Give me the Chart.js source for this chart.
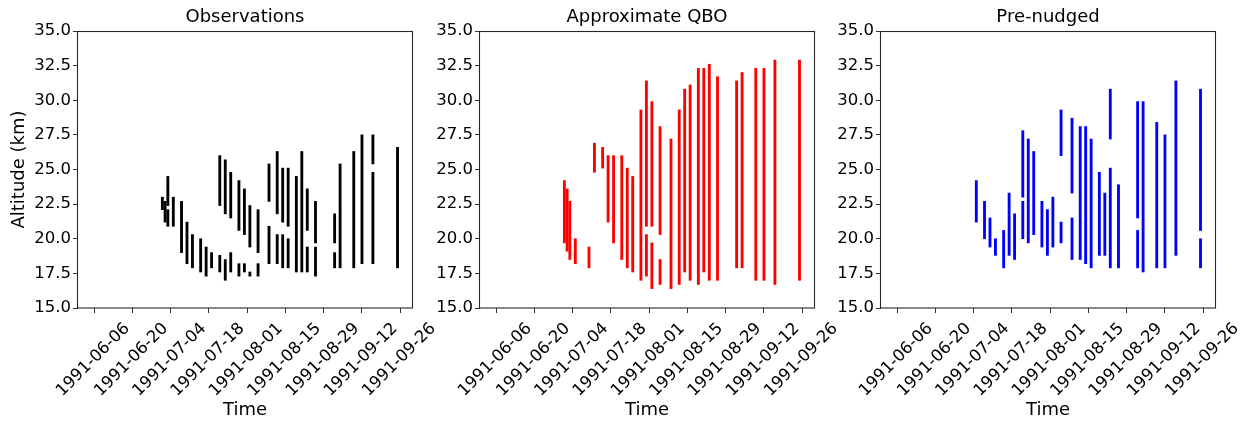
<!DOCTYPE html>
<html>
<head>
<meta charset="utf-8">
<script src="https://cdn.jsdelivr.net/npm/chart.js@4.4.1/dist/chart.umd.min.js"></script>
<style>
  html, body { margin: 0; padding: 0; background: #fff; }
  #wrap { position: relative; width: 1257px; height: 421px; overflow: hidden; background: #fff; }
  #wrap canvas { position: absolute; top: 0; }
</style>
</head>
<body>
<div id="wrap">
  <canvas id="c1" width="450" height="421" style="left:0px"></canvas>
  <canvas id="c2" width="450" height="421" style="left:400px"></canvas>
  <canvas id="c3" width="457" height="421" style="left:800px"></canvas>
</div>
<script>
// Tick labels on the shared time axis and the altitude axis
const tickDates = ['1991-06-06', '1991-06-20', '1991-07-04', '1991-07-18', '1991-08-01',
                   '1991-08-15', '1991-08-29', '1991-09-12', '1991-09-26'];
const altTicks = [15, 17.5, 20, 22.5, 25, 27.5, 30, 32.5, 35];

// Observations: one vertical segment per (date, bottom, top); repeated dates have gaps
const obsDates = ['1991-07-01', '1991-07-02', '1991-07-03', '1991-07-03', '1991-07-05', '1991-07-08',
  '1991-07-10', '1991-07-12', '1991-07-15', '1991-07-17', '1991-07-19', '1991-07-22', '1991-07-22',
  '1991-07-24', '1991-07-24', '1991-07-26', '1991-07-26', '1991-07-29', '1991-07-29', '1991-07-31',
  '1991-07-31', '1991-08-02', '1991-08-02', '1991-08-05', '1991-08-05', '1991-08-09', '1991-08-09',
  '1991-08-12', '1991-08-12', '1991-08-14', '1991-08-14', '1991-08-16', '1991-08-16', '1991-08-19',
  '1991-08-21', '1991-08-23', '1991-08-23', '1991-08-26', '1991-08-26', '1991-09-02', '1991-09-02',
  '1991-09-04', '1991-09-09', '1991-09-12', '1991-09-16', '1991-09-16', '1991-09-25'];
const obsBottom = [22.1, 21.2, 22.4, 20.9, 20.9, 19.0, 18.2, 17.9, 17.6, 17.3, 17.9, 22.4, 17.6,
  21.8, 17.0, 21.5, 17.6, 20.6, 17.3, 20.3, 17.6, 19.4, 17.3, 19.0, 17.3, 22.7, 18.2, 21.8, 18.2,
  21.2, 17.9, 20.9, 17.9, 17.6, 17.6, 20.6, 17.6, 19.7, 17.3, 19.7, 17.9, 17.9, 17.9, 18.2, 25.4,
  18.2, 17.9];
const obsTop = [23.0, 22.7, 24.5, 22.1, 23.0, 22.7, 21.2, 20.3, 20.0, 19.4, 19.0, 26.0, 18.8,
  25.7, 18.5, 24.8, 19.0, 24.2, 18.2, 23.6, 18.2, 22.4, 17.6, 22.1, 18.2, 25.4, 20.9, 26.3, 20.3,
  25.1, 20.3, 25.1, 20.0, 24.5, 26.3, 23.6, 19.4, 22.7, 19.4, 21.8, 19.0, 25.4, 26.3, 27.5, 27.5,
  24.8, 26.6];

// Approximate QBO
const qboDates = ['1991-07-01', '1991-07-02', '1991-07-03', '1991-07-05', '1991-07-10', '1991-07-12',
  '1991-07-15', '1991-07-17', '1991-07-19', '1991-07-22', '1991-07-24', '1991-07-26', '1991-07-29',
  '1991-07-31', '1991-07-31', '1991-08-02', '1991-08-02', '1991-08-05', '1991-08-05', '1991-08-09',
  '1991-08-12', '1991-08-14', '1991-08-16', '1991-08-19', '1991-08-21', '1991-08-23', '1991-08-26',
  '1991-09-02', '1991-09-04', '1991-09-09', '1991-09-12', '1991-09-16', '1991-09-25'];
const qboBottom = [19.7, 19.1, 18.5, 18.2, 17.9, 24.8, 25.1, 21.2, 19.7, 18.5, 17.9, 17.6, 17.0,
  20.9, 17.3, 20.9, 16.4, 20.3, 16.7, 16.4, 16.7, 17.6, 17.0, 16.7, 17.6, 17.0, 17.0, 17.9, 17.9,
  17.0, 17.0, 16.7, 17.0];
const qboTop = [24.2, 23.6, 22.7, 20.0, 19.4, 26.9, 26.6, 26.0, 26.0, 26.0, 25.1, 24.5, 29.3,
  31.4, 20.3, 29.9, 19.7, 28.1, 18.5, 27.2, 29.3, 30.8, 31.1, 32.3, 32.3, 32.6, 31.7, 31.4, 32.0,
  32.3, 32.3, 32.9, 32.9];

// Pre-nudged
const preDates = ['1991-07-05', '1991-07-08', '1991-07-10', '1991-07-12', '1991-07-15', '1991-07-17',
  '1991-07-19', '1991-07-22', '1991-07-22', '1991-07-24', '1991-07-26', '1991-07-29', '1991-07-31',
  '1991-08-02', '1991-08-05', '1991-08-05', '1991-08-09', '1991-08-09', '1991-08-12', '1991-08-14',
  '1991-08-16', '1991-08-19', '1991-08-21', '1991-08-23', '1991-08-23', '1991-08-26', '1991-09-02',
  '1991-09-02', '1991-09-04', '1991-09-09', '1991-09-12', '1991-09-16', '1991-09-25', '1991-09-25'];
const preBottom = [21.2, 20.0, 19.4, 18.8, 17.9, 18.8, 18.5, 23.0, 20.0, 19.7, 20.3, 19.4, 18.8,
  19.4, 26.0, 19.7, 23.3, 18.5, 18.5, 18.2, 17.9, 18.8, 18.8, 27.2, 17.9, 17.9, 21.5, 17.9, 17.6,
  17.9, 17.9, 18.8, 20.6, 17.9];
const preTop = [24.2, 22.7, 21.5, 20.0, 20.6, 23.3, 21.8, 27.8, 22.7, 27.2, 26.3, 22.7, 22.1,
  23.0, 29.3, 21.2, 28.7, 21.5, 28.1, 28.1, 27.2, 24.8, 23.3, 30.8, 25.1, 23.9, 29.9, 20.6, 29.9,
  28.4, 27.5, 31.4, 30.8, 20.0];

const FONT = "'DejaVu Sans', 'Liberation Sans', sans-serif";
const DAY_MS = 86400000;
const toDay = s => Date.parse(s) / DAY_MS;
const fmtDay = d => new Date(Math.round(d) * DAY_MS).toISOString().slice(0, 10);

// Visible time window of each panel
const xMin = toDay('1991-06-06') - 5.86;
const xMax = toDay('1991-06-06') + 116.3;

// Full box around the plotting area
const framePlugin = {
  id: 'frame',
  afterDraw(chart) {
    const { ctx, chartArea: a } = chart;
    ctx.save();
    ctx.strokeStyle = '#262626';
    ctx.lineWidth = 1.1;
    ctx.strokeRect(Math.round(a.left) - 0.5, Math.round(a.top) + 0.5,
                   Math.round(a.right - a.left) + 1, Math.round(a.bottom - a.top) - 0.5);
    ctx.restore();
  }
};

const panels = [
  { id: 'c1', title: 'Observations', color: '#000000', dates: obsDates, bottom: obsBottom, top: obsTop,
    yTitle: true, padLeft: 0, yWidth: 78, padRight: 38 },
  { id: 'c2', title: 'Approximate QBO', color: '#ff0000', dates: qboDates, bottom: qboBottom, top: qboTop,
    yTitle: false, padLeft: 21, yWidth: 59, padRight: 36 },
  { id: 'c3', title: 'Pre-nudged', color: '#0000ff', dates: preDates, bottom: preBottom, top: preTop,
    yTitle: false, padLeft: 22, yWidth: 59, padRight: 42 }
];

const axisGrid = { display: true, drawOnChartArea: false, drawTicks: true, tickLength: 5,
                   color: '#333333', lineWidth: 1, offset: false };

panels.forEach(p => {
  new Chart(document.getElementById(p.id), {
    type: 'bar',
    data: {
      datasets: [{
        data: p.dates.map((d, i) => ({ x: toDay(d), y: [p.bottom[i], p.top[i]] })),
        backgroundColor: p.color,
        borderWidth: 0,
        borderSkipped: false,
        barThickness: 2.2
      }]
    },
    options: {
      responsive: false,
      animation: false,
      events: [],
      layout: { padding: { left: p.padLeft, right: p.padRight, top: 0, bottom: 0 } },
      plugins: {
        legend: { display: false },
        tooltip: { enabled: false },
        title: {
          display: true, text: p.title, color: '#000', fullSize: false,
          font: { family: FONT, size: 18, weight: 'normal' },
          padding: { top: 7, bottom: 2.4 }
        }
      },
      scales: {
        x: {
          type: 'linear', min: xMin, max: xMax, offset: false,
          afterBuildTicks: s => { s.ticks = tickDates.map(d => ({ value: toDay(d) })); },
          afterFit: s => { s.height = 113; },
          grid: axisGrid,
          border: { display: false },
          ticks: {
            autoSkip: false, maxRotation: 45, minRotation: 45, padding: 6, labelOffset: 33,
            color: '#000', font: { family: FONT, size: 16.5 },
            callback: v => fmtDay(v)
          },
          title: {
            display: true, text: 'Time', color: '#000',
            font: { family: FONT, size: 18 }, padding: { top: 0, bottom: 0 }
          }
        },
        y: {
          type: 'linear', min: 15, max: 35,
          afterBuildTicks: s => { s.ticks = altTicks.map(v => ({ value: v })); },
          afterFit: s => { s.width = p.yWidth; },
          grid: axisGrid,
          border: { display: false },
          ticks: {
            padding: 2, color: '#000', font: { family: FONT, size: 16.5 },
            callback: v => Number(v).toFixed(1)
          },
          title: {
            display: p.yTitle, text: 'Altitude (km)', color: '#000',
            font: { family: FONT, size: 18 }, padding: { top: 9, bottom: 0 }
          }
        }
      }
    },
    plugins: [framePlugin]
  });
});
</script>
</body>
</html>
